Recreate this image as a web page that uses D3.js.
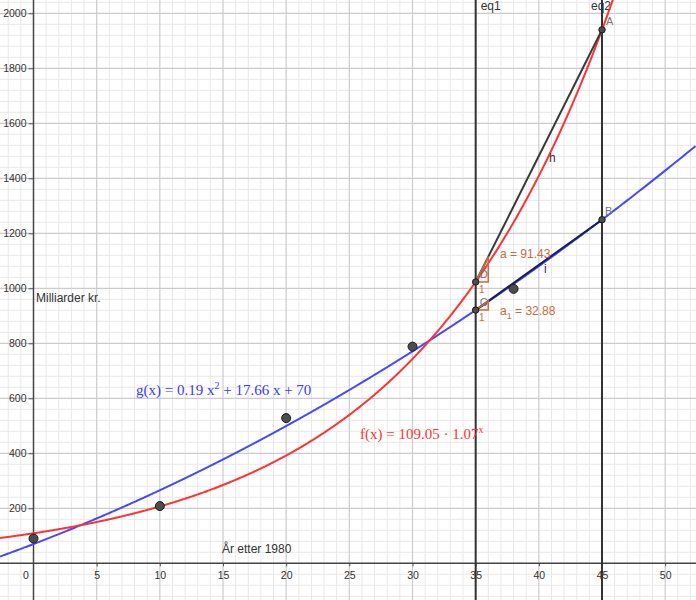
<!DOCTYPE html>
<html><head><meta charset="utf-8">
<script src="https://cdn.jsdelivr.net/npm/d3@7"></script>
<style>body{margin:0;background:#fff}svg{display:block}</style>
</head><body>
<svg id="c" width="696" height="600"></svg>
<script>
// ---- data ----
const dataX = [0, 10, 20, 30, 38];
const dataY = [90, 208, 528, 788, 998];
const fCoef = [109.05, 1.06606];           // f(x) = a * b^x  (label shows rounded 1.07)
const gCoef = [0.19, 17.66, 70];           // g(x) = a x^2 + b x + c
const eqLinesX = [35, 45];
const eqLineNames = ["eq1", "eq2"];
const xTicks = [0, 5, 10, 15, 20, 25, 30, 35, 40, 45, 50];
const yTicks = [200, 400, 600, 800, 1000, 1200, 1400, 1600, 1800, 2000];
const slopeLabels = ["a = 91.43", "32.88"];

const W = 696, H = 600;
const x = d3.scaleLinear().domain([-2.652, 52.44]).range([0, W]);
const y = d3.scaleLinear().domain([-133.5, 2048.4]).range([H, 0]);
const f = t => fCoef[0] * Math.pow(fCoef[1], t);
const g = t => gCoef[0] * t * t + gCoef[1] * t + gCoef[2];
const SANS = "Liberation Sans, Arial, sans-serif";

const svg = d3.select("#c");
// grid
const gridG = svg.append("g");
const minorX = d3.range(-2, 53, 1), minorY = d3.range(-120, 2049, 40);
gridG.selectAll(".mx").data(minorX.filter(v => v % 5 !== 0)).join("line")
  .attr("x1", d => x(d)).attr("x2", d => x(d)).attr("y1", 0).attr("y2", H)
  .attr("stroke", "#e8e8e8").attr("stroke-width", 1);
gridG.selectAll(".my").data(minorY.filter(v => v % 200 !== 0)).join("line")
  .attr("y1", d => y(d)).attr("y2", d => y(d)).attr("x1", 0).attr("x2", W)
  .attr("stroke", "#e8e8e8").attr("stroke-width", 1);
gridG.selectAll(".Mx").data(d3.range(0, 53, 5).filter(v => v !== 0)).join("line")
  .attr("x1", d => x(d)).attr("x2", d => x(d)).attr("y1", 0).attr("y2", H)
  .attr("stroke", "#cccccc").attr("stroke-width", 1.2);
gridG.selectAll(".My").data(d3.range(0, 2049, 200).filter(v => v !== 0)).join("line")
  .attr("y1", d => y(d)).attr("y2", d => y(d)).attr("x1", 0).attr("x2", W)
  .attr("stroke", "#cccccc").attr("stroke-width", 1.2);

// axes
const yAxis = d3.axisLeft(y).tickValues(yTicks).tickFormat(d3.format("d")).tickSize(5).tickPadding(2);
const xAxis = d3.axisBottom(x).tickValues(xTicks).tickFormat(d3.format("d")).tickSize(3).tickPadding(5);
const ya = svg.append("g").attr("transform", `translate(${x(0)},0)`).call(yAxis);
const xa = svg.append("g").attr("transform", `translate(0,${y(0)})`).call(xAxis);
[ya, xa].forEach(a => {
  a.select(".domain").remove();
  a.selectAll("line").attr("stroke", "#555");
  a.selectAll("text").attr("fill", "#333").style("font-family", SANS).style("font-size", "10.5px");
});
xa.selectAll(".tick").filter(d => d === 0).select("text").attr("dx", -8);
xa.selectAll(".tick").filter(d => d === 0).select("line").remove();
svg.append("line").attr("x1", x(0)).attr("x2", x(0)).attr("y1", 0).attr("y2", H).attr("stroke", "#444").attr("stroke-width", 1.5);
svg.append("line").attr("y1", y(0)).attr("y2", y(0)).attr("x1", 0).attr("x2", W).attr("stroke", "#444").attr("stroke-width", 1.5);

// axis labels
svg.append("text").attr("x", 36).attr("y", 302).text("Milliarder kr.")
  .attr("fill", "#333").style("font-family", SANS).style("font-size", "12px");
svg.append("text").attr("x", 222).attr("y", 553).text("År etter 1980")
  .attr("fill", "#333").style("font-family", SANS).style("font-size", "12px");

// vertical lines eq1, eq2
svg.selectAll(".eq").data(eqLinesX).join("line")
  .attr("x1", d => x(d)).attr("x2", d => x(d)).attr("y1", 0).attr("y2", H)
  .attr("stroke", "#333").attr("stroke-width", 2);
svg.selectAll(".eqt").data(eqLinesX).join("text")
  .attr("x", (d, i) => x(d) + (i === 0 ? 5 : -11)).attr("y", 10).text((d, i) => eqLineNames[i])
  .attr("fill", "#333").style("font-family", SANS).style("font-size", "12px");

// curves
const xs = d3.range(-2.652, 52.44, 0.05);
const line = d3.line().x(d => x(d[0])).y(d => y(d[1]));
svg.append("path").attr("d", line(xs.map(t => [t, g(t)])))
  .attr("fill", "none").attr("stroke", "#4848ff").attr("stroke-width", 2);
svg.append("path").attr("d", line(xs.filter(t => f(t) < 2300).map(t => [t, f(t)])))
  .attr("fill", "none").attr("stroke", "#ff3333").attr("stroke-width", 2);

// secant lines h (D-A) and i (C-B)
const D = [35, f(35)], A = [45, f(45)], C = [35, g(35)], B = [45, g(45)];
svg.append("line").attr("x1", x(D[0])).attr("y1", y(D[1])).attr("x2", x(A[0])).attr("y2", y(A[1]))
  .attr("stroke", "#3a3a3a").attr("stroke-width", 2);
svg.append("line").attr("x1", x(C[0])).attr("y1", y(C[1])).attr("x2", x(B[0])).attr("y2", y(B[1]))
  .attr("stroke", "#1c1c5a").attr("stroke-width", 2);

// slope triangles
const brown = "#c0703f";
[[D, A], [C, B]].forEach(([P, Q], i) => {
  const m = (Q[1] - P[1]) / (Q[0] - P[0]);
  const pts = [[P[0], P[1]], [P[0] + 1, P[1]], [P[0] + 1, P[1] + m]];
  svg.append("path").attr("d", d3.line().x(d => x(d[0])).y(d => y(d[1]))(pts) + "Z")
    .attr("fill", brown).attr("fill-opacity", 0.12).attr("stroke", brown).attr("stroke-width", 1.5);
  svg.append("text").attr("x", x(P[0] + 0.5) - 3).attr("y", y(P[1]) + 11).text("1")
    .attr("fill", brown).style("font-family", SANS).style("font-size", "10px");
});
const lblStyle = s => s.attr("fill", brown).style("font-family", SANS).style("font-size", "12px");
lblStyle(svg.append("text").attr("x", 500).attr("y", 258).text(slopeLabels[0]));
const a1 = lblStyle(svg.append("text").attr("x", 500).attr("y", 315));
a1.append("tspan").text("a");
a1.append("tspan").attr("dy", 4).style("font-size", "9px").text("1");
a1.append("tspan").attr("dy", -4).text(" = " + slopeLabels[1]);

// labels h, i
const darkLbl = s => s.attr("fill", "#333").style("font-family", SANS).style("font-size", "12px");
darkLbl(svg.append("text").attr("x", 549).attr("y", 162).text("h"));
darkLbl(svg.append("text").attr("x", 544).attr("y", 273).text("i"));

// data points
svg.selectAll(".pt").data(dataX).join("circle")
  .attr("cx", d => x(d)).attr("cy", (d, i) => y(dataY[i])).attr("r", 4.5)
  .attr("fill", "#4d4d4d").attr("stroke", "#1a1a1a").attr("stroke-width", 1);
// named points
const named = [[D, "D", 4, -4], [C, "C", 4, -4], [A, "A", 4, -5], [B, "B", 3, -5]];
named.forEach(([P, name, dx, dy]) => {
  svg.append("circle").attr("cx", x(P[0])).attr("cy", y(P[1])).attr("r", 3.2)
    .attr("fill", "#4d4d4d").attr("stroke", "#1a1a1a").attr("stroke-width", 1);
  svg.append("text").attr("x", x(P[0]) + dx).attr("y", y(P[1]) + dy).text(name)
    .attr("fill", "#777").style("font-family", SANS).style("font-size", "11px");
});

// function labels
const gl = svg.append("text").attr("x", 136).attr("y", 395).attr("fill", "#3a3aff")
  .style("font-family", "Liberation Serif, DejaVu Serif, serif").style("font-size", "15px");
gl.append("tspan").text("g(x)  =  " + gCoef[0] + " x");
gl.append("tspan").attr("dy", -6).style("font-size", "10px").text("2");
gl.append("tspan").attr("dy", 6).text(" + " + gCoef[1] + " x + " + gCoef[2]);
const fl = svg.append("text").attr("x", 360).attr("y", 439).attr("fill", "#ff3333")
  .style("font-family", "Liberation Serif, DejaVu Serif, serif").style("font-size", "15px");
fl.append("tspan").text("f(x)  =  " + fCoef[0] + " · " + "1.07");
fl.append("tspan").attr("dy", -6).style("font-size", "10px").text("x");
</script>
</body></html>
